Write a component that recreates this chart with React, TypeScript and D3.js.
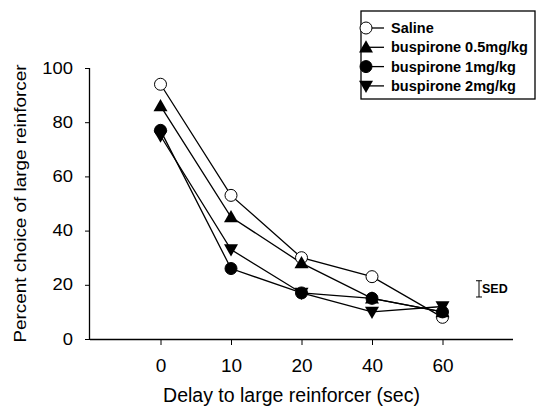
import { useEffect, useRef } from 'react';
import * as d3 from 'd3';

const delays = ['0', '10', '20', '40', '60'];
const yTicks = [0, 20, 40, 60, 80, 100];

const saline = [94, 53, 30, 23, 8];
const busp05 = [86, 45, 28, 15, 10];
const busp1 = [77, 26, 17, 15, 10];
const busp2 = [75, 33, 17, 10, 12];

const seriesNames = ['Saline', 'buspirone 0.5mg/kg', 'buspirone 1mg/kg', 'buspirone 2mg/kg'];
const seriesSymbols = ['openCircle', 'triangleUp', 'circle', 'triangleDown'];

const sedValue = 6; // size of the SED error bar, in percent units

const W = 536;
const H = 415;

function drawSymbol(g: d3.Selection<SVGGElement, unknown, null, undefined>, kind: string, x: number, y: number) {
  if (kind === 'openCircle' || kind === 'circle') {
    g.append('circle')
      .attr('cx', x).attr('cy', y).attr('r', 6)
      .attr('fill', kind === 'circle' ? '#000' : '#fff')
      .attr('stroke', '#000')
      .attr('stroke-width', 1);
  } else {
    const s = 7;
    const pts = kind === 'triangleUp'
      ? [[x, y - s], [x + s, y + s * 0.75], [x - s, y + s * 0.75]]
      : [[x, y + s], [x + s, y - s * 0.75], [x - s, y - s * 0.75]];
    g.append('polygon')
      .attr('points', pts.map(p => p.join(',')).join(' '))
      .attr('fill', '#000');
  }
}

export default function App() {
  const svgRef = useRef<SVGSVGElement>(null);

  useEffect(() => {
    const svg = d3.select(svgRef.current);
    svg.selectAll('*').remove();

    const left = 90, right = 513, top = 68, bottom = 339;

    const x = d3.scalePoint<string>().domain(delays).range([left, right]).padding(1);
    const y = d3.scaleLinear().domain([0, 100]).range([bottom, top]);

    const font = 'Liberation Sans, Arial, sans-serif';

    // x axis
    const xAxis = svg.append('g')
      .attr('transform', `translate(0,${bottom})`)
      .call(d3.axisBottom(x).tickSize(6).tickPadding(14));
    xAxis.select('.domain').attr('d', `M${left},0.5H${right}`).attr('stroke-width', 1.3);
    xAxis.selectAll('text').style('font-size', '19px').style('font-family', font).attr('fill', '#000');

    // y axis
    const yAxis = svg.append('g')
      .attr('transform', `translate(${left},0)`)
      .call(d3.axisLeft(y).tickValues(yTicks).tickSize(5).tickPadding(0));
    yAxis.select('.domain').attr('d', `M-0.5,${top}V${bottom}`).attr('stroke-width', 1.3);
    yAxis.selectAll<SVGTextElement, number>('text')
      .attr('x', null)
      .attr('transform', d => `translate(-17,${0}) scale(1.15,1)`)
      .style('font-size', '16px').style('font-family', font).attr('fill', '#000');

    // axis titles
    svg.append('text')
      .attr('x', (left + right) / 2 - 10)
      .attr('y', 402)
      .attr('text-anchor', 'middle')
      .style('font-family', font)
      .style('font-size', '19.5px')
      .text('Delay to large reinforcer (sec)');

    svg.append('text')
      .attr('transform', `translate(26,${(top + bottom) / 2 + 0}) rotate(-90)`)
      .attr('text-anchor', 'middle')
      .attr('textLength', 278)
      .attr('lengthAdjust', 'spacingAndGlyphs')
      .style('font-family', font)
      .style('font-size', '16.5px')
      .text('Percent choice of large reinforcer');

    // series
    const allSeries = [saline, busp05, busp1, busp2];
    const line = d3.line<number>()
      .x((_, i) => x(delays[i])!)
      .y(d => y(d));

    allSeries.forEach(vals => {
      svg.append('path')
        .attr('d', line(vals))
        .attr('fill', 'none')
        .attr('stroke', '#000')
        .attr('stroke-width', 1.3);
    });

    allSeries.forEach((vals, si) => {
      const g = svg.append('g');
      vals.forEach((v, i) => drawSymbol(g, seriesSymbols[si], x(delays[i])!, y(v)));
    });

    // SED bar
    const sedX = 479;
    const sedMid = y(18.5);
    const half = (y(0) - y(sedValue)) / 2;
    svg.append('path')
      .attr('d', `M${sedX - 3},${sedMid - half}H${sedX + 3}M${sedX},${sedMid - half}V${sedMid + half}M${sedX - 3},${sedMid + half}H${sedX + 3}`)
      .attr('stroke', '#000')
      .attr('fill', 'none');
    svg.append('text')
      .attr('x', sedX + 3)
      .attr('y', sedMid + 4.5)
      .style('font-family', font)
      .style('font-size', '12.5px')
      .style('font-weight', 'bold')
      .text('SED');

    // legend
    const lg = svg.append('g');
    lg.append('rect')
      .attr('x', 361).attr('y', 11).attr('width', 174).attr('height', 88)
      .attr('fill', '#fff').attr('stroke', '#000').attr('stroke-width', 1.3);
    seriesNames.forEach((name, i) => {
      const ly = 28 + i * 19.3;
      lg.append('line')
        .attr('x1', 365).attr('x2', 384).attr('y1', ly).attr('y2', ly)
        .attr('stroke', '#000').attr('stroke-width', 1.3);
      drawSymbol(lg, seriesSymbols[i], 366, ly);
      lg.append('text')
        .attr('x', 391)
        .attr('y', ly + 5)
        .style('font-family', font)
        .style('font-size', '14.5px')
        .style('font-weight', 'bold')
        .text(name);
    });
  }, []);

  return (
    <svg ref={svgRef} width={W} height={H} style={{ position: 'absolute', left: 0, top: 0, background: '#fff' }} />
  );
}
